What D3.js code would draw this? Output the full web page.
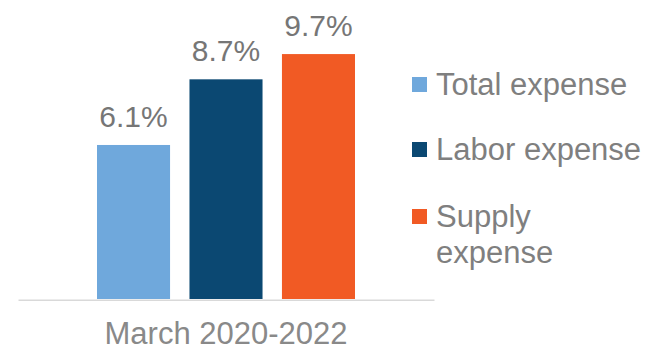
<!DOCTYPE html>
<html>
<head>
<meta charset="utf-8">
<script src="https://cdn.jsdelivr.net/npm/d3@7"></script>
<style>
  body { margin: 0; background: #fff; }
  text { font-family: "Liberation Sans", Arial, sans-serif; }
</style>
</head>
<body>
<div class="chart"></div>
<script>
// data
let categories = ['March 2020-2022']
let series = ['Total expense', 'Labor expense', 'Supply expense']
let values = [6.1, 8.7, 9.7]
let colors = ['#6fa8dc', '#0b4872', '#f15a24']
let legendLines = [['Total expense'], ['Labor expense'], ['Supply', 'expense']]

let W = 663, H = 350
let margin = {top: 46, left: 18, bottom: 51}
let plotRight = 434

var svg = d3.select('.chart').append('svg')
        .attr('width', W)
        .attr('height', H)
        .attr('viewBox', [0, 0, W, H])

let x0 = d3.scaleBand()
    .domain(categories)
    .range([margin.left, plotRight])

let x1 = d3.scaleBand()
    .domain(series)
    .range([79, x0.bandwidth() - 79])
    .paddingInner(0.21)

let y = d3.scaleLinear()
    .domain([0, 10])
    .range([H - margin.bottom, H - margin.bottom - 252.5])

let data = series.map((s, i) => ({cat: categories[0], name: s, value: values[i], color: colors[i]}))

let g = svg.append('g')

g.selectAll('rect')
    .data(data)
        .enter()
    .append('rect')
    .attr('x', d => x0(d.cat) + x1(d.name))
    .attr('y', d => y(d.value))
    .attr('width', x1.bandwidth())
    .attr('height', d => y(0) - y(d.value))
    .style('fill', d => d.color)

// value labels
g.selectAll('.val')
    .data(data)
        .enter()
    .append('text')
    .attr('class', 'val')
    .attr('x', d => x0(d.cat) + x1(d.name) + x1.bandwidth() / 2)
    .attr('y', d => y(d.value) - 18)
    .attr('text-anchor', 'middle')
    .style('font-size', '30px')
    .style('fill', '#767676')
    .text(d => d.value.toFixed(1) + '%')

// x axis (line only, no ticks)
let xAxis = d3.axisBottom(x0).tickSize(0).tickPadding(22)
let ax = svg.append('g')
    .attr('transform', 'translate(0,' + (y(0) + 0.8) + ')')
    .call(xAxis)
ax.select('.domain').attr('stroke', '#d9d9d9').attr('stroke-width', 1.6)
ax.selectAll('.tick text')
    .attr('dy', '0.71em')
    .style('font-size', '31px')
    .style('font-family', '"Liberation Sans", Arial, sans-serif')
    .style('fill', '#898989')

// legend
let leg = svg.append('g').attr('transform', 'translate(412,0)')
let rowBase = [95, 160, 227]
let items = leg.selectAll('g')
    .data(series)
        .enter()
    .append('g')
    .attr('transform', (d, i) => 'translate(0,' + rowBase[i] + ')')

items.append('rect')
    .attr('x', 0)
    .attr('y', -18)
    .attr('width', 15)
    .attr('height', 15)
    .style('fill', (d, i) => colors[i])

items.append('text')
    .attr('x', 24)
    .style('font-size', '31px')
    .style('fill', '#7f7f7f')
    .selectAll('tspan')
    .data((d, i) => legendLines[i])
        .enter()
    .append('tspan')
    .attr('x', 24)
    .attr('dy', (d, j) => j == 0 ? 0 : 36)
    .text(d => d)
</script>
</body>
</html>
